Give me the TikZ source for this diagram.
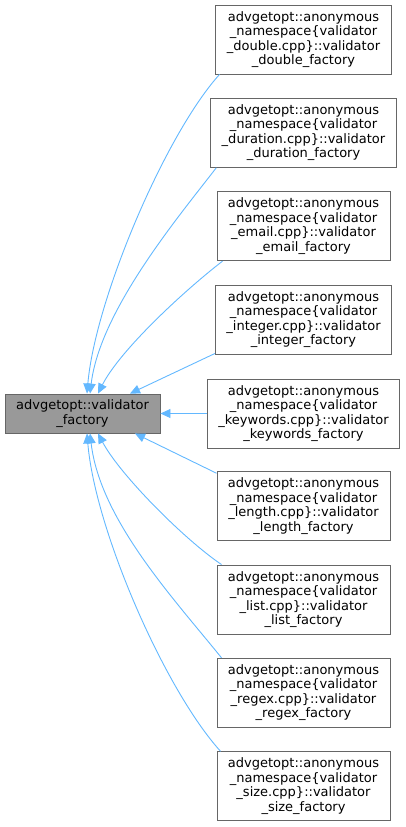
\documentclass[tikz,border=0pt]{standalone}
\usepackage{fontspec}
\setmainfont{DejaVu Sans}
\usetikzlibrary{arrows.meta}
\definecolor{edgeblue}{HTML}{63B8FF}
\definecolor{boxgray}{HTML}{666666}
\definecolor{basefill}{HTML}{999999}
\begin{document}
\begin{tikzpicture}[x=1pt,y=-1pt,
  every node/.style={draw=boxgray,line width=0.9pt,align=center,inner xsep=11pt,inner ysep=2pt,
    font=\fontsize{13}{14.5}\selectfont},
  derived/.style={fill=white,minimum height=69pt},
  basecls/.style={fill=basefill,minimum width=155pt,minimum height=39pt,inner xsep=4pt},
  edge/.style={draw=edgeblue,line width=0.9pt,{Triangle[length=10pt,width=9pt]}-}]
\useasboundingbox (0,0) rectangle (405,827);
\node[basecls] (base) at (82.5,413.5) {advgetopt::validator\\\_factory};
\node[derived] (dbl) at (303.5,39.5) {advgetopt::anonymous\\\_namespace\{validator\\\_double.cpp\}::validator\\\_double\_factory};
\node[derived] (dur) at (303.5,132.8) {advgetopt::anonymous\\\_namespace\{validator\\\_duration.cpp\}::validator\\\_duration\_factory};
\node[derived] (eml) at (303.5,226.2) {advgetopt::anonymous\\\_namespace\{validator\\\_email.cpp\}::validator\\\_email\_factory};
\node[derived] (int) at (303.5,319.5) {advgetopt::anonymous\\\_namespace\{validator\\\_integer.cpp\}::validator\\\_integer\_factory};
\node[derived] (kwd) at (303.5,413.5) {advgetopt::anonymous\\\_namespace\{validator\\\_keywords.cpp\}::validator\\\_keywords\_factory};
\node[derived] (len) at (303.5,506.2) {advgetopt::anonymous\\\_namespace\{validator\\\_length.cpp\}::validator\\\_length\_factory};
\node[derived] (lst) at (303.5,599.5) {advgetopt::anonymous\\\_namespace\{validator\\\_list.cpp\}::validator\\\_list\_factory};
\node[derived] (rgx) at (303.5,692.8) {advgetopt::anonymous\\\_namespace\{validator\\\_regex.cpp\}::validator\\\_regex\_factory};
\node[derived] (siz) at (303.5,786.2) {advgetopt::anonymous\\\_namespace\{validator\\\_size.cpp\}::validator\\\_size\_factory};
\draw[edge] ([xshift=4.5pt]base.north) .. controls (95,300) and (165,135) .. ([xshift=4pt]dbl.south west);
\draw[edge] ([xshift=7.5pt]base.north) .. controls (100,310) and (180,215) .. ([xshift=6pt]dur.south west);
\draw[edge] ([xshift=15.5pt]base.north) .. controls (120,350) and (185,290) .. ([xshift=6pt]eml.south west);
\draw[edge] ([xshift=47.5pt]base.north) -- ([yshift=1pt]int.south west);
\draw[edge] (base.east) -- (kwd.west);
\draw[edge] ([xshift=52.5pt]base.south) -- ([yshift=-2pt]len.north west);
\draw[edge] ([xshift=15.5pt]base.south) .. controls (120,475) and (185,540) .. ([xshift=5pt]lst.north west);
\draw[edge] ([xshift=7.5pt]base.south) .. controls (100,520) and (175,600) .. ([xshift=5pt]rgx.north west);
\draw[edge] ([xshift=4.5pt]base.south) .. controls (95,530) and (165,690) .. ([xshift=4pt]siz.north west);
\end{tikzpicture}
\end{document}
